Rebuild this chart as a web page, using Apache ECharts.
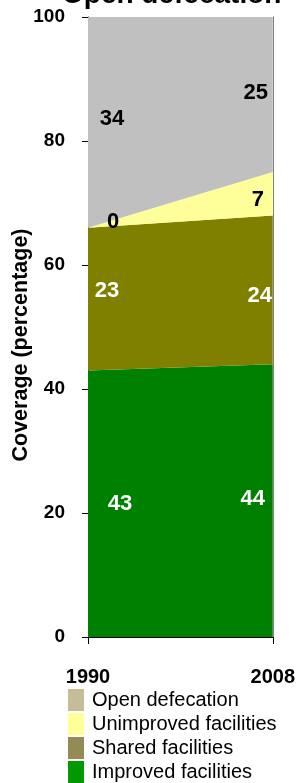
<!DOCTYPE html>
<html>
<head>
<meta charset="utf-8">
<script src="https://cdn.jsdelivr.net/npm/echarts@6/dist/echarts.min.js"></script>
<style>
	html, body { margin: 0; padding: 0; background: #fff; }
	#chart { width: 298px; height: 783px; }
</style>
</head>
<body>
<div id="chart"></div>
<script>
var years = ['1990', '2008'];
var improved = [43, 44];
var shared = [23, 24];
var unimproved = [0, 7];
var openDef = [34, 25];
var yTicks = [0, 20, 40, 60, 80, 100];

var font = 'Liberation Sans, Arial, sans-serif';

// stacked bottom-up
var layers = [
	{name: 'Improved facilities', data: improved, area: '#008000', legend: '#009900', label: '#fff', off: [[32, 0], [-20, -2]]},
	{name: 'Shared facilities', data: shared, area: '#808000', legend: '#948a54', label: '#fff', off: [[19, -8], [-13, 6]]},
	{name: 'Unimproved facilities', data: unimproved, area: '#ffff99', legend: '#ffff99', label: '#000', off: [[25, -6], [-15, 6]]},
	{name: 'Open defecation', data: openDef, area: '#c0c0c0', legend: '#c4bd97', label: '#000', off: [[24, -3], [-17, -2]]}
];

var series = [];
var labelPts = [];
var base = [0, 0];
for (var i = 0; i < layers.length; i++) {
	var L = layers[i];
	series.push({
		name: L.name,
		type: 'line',
		stack: 'total',
		data: L.data,
		symbol: 'none',
		silent: true,
		lineStyle: {width: 0},
		itemStyle: {color: L.legend},
		areaStyle: {color: L.area, opacity: 1}
	});
	for (var j = 0; j < L.data.length; j++) {
		labelPts.push({
			value: [j, base[j] + L.data[j] / 2],
			label: {formatter: String(L.data[j]), color: L.label, offset: L.off[j]}
		});
		base[j] += L.data[j];
	}
}

series.push({
	type: 'scatter',
	symbolSize: 0,
	silent: true,
	data: labelPts,
	z: 10,
	itemStyle: {opacity: 1},
	label: {
		show: true,
		position: 'inside',
		opacity: 1,
		textBorderWidth: 0,
		fontFamily: font,
		fontWeight: 'bold',
		fontSize: 22
	}
});

var myChart = echarts.init(document.getElementById('chart'));
var option = {
	animation: false,
	title: {
		text: 'Open defecation',
		left: 62,
		top: -19,
		padding: 0,
		textStyle: {fontFamily: font, fontWeight: 'bold', fontSize: 28, color: '#000'}
	},
	grid: {left: 88, right: 25, top: 17, bottom: 146},
	legend: {
		orient: 'vertical',
		left: 68,
		top: 689,
		padding: 0,
		itemWidth: 16,
		itemHeight: 22,
		itemGap: 2,
		icon: 'rect',
		selectedMode: false,
		textStyle: {fontFamily: font, fontSize: 20, color: '#000', padding: [0, 0, 0, 3]},
		data: [
			{name: 'Open defecation', itemStyle: {color: '#c4bd97'}},
			{name: 'Unimproved facilities', itemStyle: {color: '#ffff99'}},
			{name: 'Shared facilities', itemStyle: {color: '#948a54'}},
			{name: 'Improved facilities', itemStyle: {color: '#009900'}}
		]
	},
	graphic: [{
		type: 'text',
		x: 21,
		y: 345,
		rotation: Math.PI / 2,
		style: {
			text: 'Coverage (percentage)',
			fontFamily: font,
			fontWeight: 'bold',
			fontSize: 21.5,
			fill: '#000',
			align: 'center',
			verticalAlign: 'middle'
		}
	}],
	xAxis: {
		type: 'category',
		boundaryGap: false,
		data: years,
		axisLine: {lineStyle: {color: '#000', width: 1}},
		axisTick: {show: true, length: 7, alignWithLabel: true, lineStyle: {color: '#000'}},
		axisLabel: {interval: 0, margin: 30, fontFamily: font, fontWeight: 'bold', fontSize: 20, color: '#000'},
		splitLine: {show: false}
	},
	yAxis: [{
		type: 'value',
		min: yTicks[0],
		max: yTicks[yTicks.length - 1],
		interval: 20,
		axisLine: {show: true, lineStyle: {color: '#000', width: 1}},
		axisTick: {show: true, length: 6, lineStyle: {color: '#000'}},
		axisLabel: {margin: 23, fontFamily: font, fontWeight: 'bold', fontSize: 19, color: '#000'},
		splitLine: {show: false}
	}, {
		type: 'value',
		position: 'right',
		min: 0,
		max: 100,
		axisLine: {show: true, lineStyle: {color: '#808080', width: 1}},
		axisTick: {show: false},
		axisLabel: {show: false},
		splitLine: {show: false}
	}],
	series: series
};
myChart.setOption(option);
</script>
</body>
</html>
